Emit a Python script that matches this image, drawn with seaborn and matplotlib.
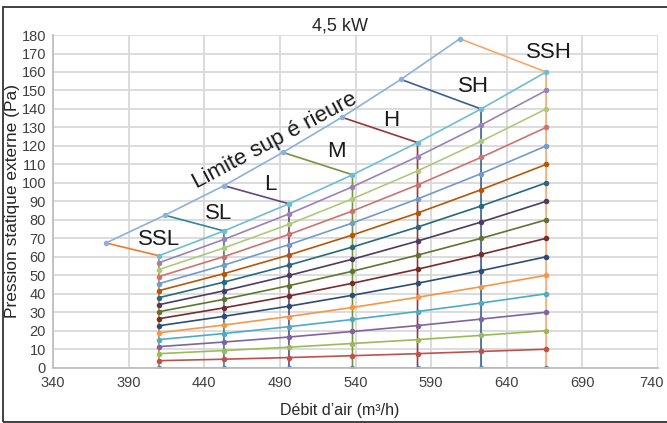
import pandas as pd
import matplotlib.pyplot as plt
import matplotlib.transforms as mtransforms
import seaborn as sns
from matplotlib.patches import Rectangle

# vitesses de ventilation et débits correspondants (m3/h)
vitesses = ['SSL', 'SL', 'L', 'M', 'H', 'SH', 'SSH']
debits = [410, 453, 496, 538, 581, 623, 666]

# courbes de réseau : pression (Pa) lue à chaque vitesse, de 0 à 160 Pa à SSH
p_SSL = [0, 3.8, 7.6, 11.4, 15.2, 18.9, 22.7, 26.5, 30.3, 34.1, 37.9, 41.7, 45.5, 49.3, 53.1, 56.8, 60.6]
p_SL = [0, 4.6, 9.3, 13.9, 18.5, 23.1, 27.8, 32.4, 37.0, 41.6, 46.3, 50.9, 55.5, 60.1, 64.8, 69.4, 74.0]
p_L = [0, 5.5, 11.1, 16.6, 22.2, 27.7, 33.3, 38.8, 44.4, 49.9, 55.5, 61.0, 66.6, 72.1, 77.6, 83.2, 88.7]
p_M = [0, 6.5, 13.1, 19.6, 26.1, 32.6, 39.2, 45.7, 52.2, 58.7, 65.3, 71.8, 78.3, 84.8, 91.4, 97.9, 104.4]
p_H = [0, 7.6, 15.2, 22.8, 30.4, 38.1, 45.7, 53.3, 60.9, 68.5, 76.1, 83.7, 91.3, 98.9, 106.5, 114.2, 121.8]
p_SH = [0, 8.8, 17.5, 26.3, 35.0, 43.8, 52.5, 61.3, 70.0, 78.8, 87.5, 96.3, 105.0, 113.8, 122.5, 131.3, 140.0]
p_SSH = [0, 10, 20, 30, 40, 50, 60, 70, 80, 90, 100, 110, 120, 130, 140, 150, 160]

# limite supérieure
limite_x = [375, 414, 453, 492, 531, 570, 609]
limite_y = [67.5, 82.5, 98.5, 116.5, 135.5, 156, 178]

couleurs_courbes = ['#4F81BD', '#C0504D', '#9BBB59', '#8064A2', '#4BACC6', '#F79646',
                    '#2C4D75', '#772C2A', '#5F7530', '#4D3B62', '#276A7C', '#B65708',
                    '#729ACA', '#CD7371', '#AFC97A', '#9983B5', '#6FBDD1']
couleurs_vitesses = ['#F07B2B', '#31859C', '#604A7B', '#77933C', '#953735', '#376092', '#F9A66B']
couleur_limite = '#8EB0DA'

colonnes = [p_SSL, p_SL, p_L, p_M, p_H, p_SH, p_SSH]

# tableau long pour les courbes
rows = []
for i in range(len(p_SSH)):
    for d, col in zip(debits, colonnes):
        rows.append({'debit': d, 'pression': col[i], 'courbe': i})
df_courbes = pd.DataFrame(rows)

# tableau pour les vitesses : limite -> sommet -> 0
rows = []
for k, v in enumerate(vitesses):
    top = colonnes[k][-1]
    for x, y in [(limite_x[k], limite_y[k]), (debits[k], top), (debits[k], 0)]:
        rows.append({'debit': x, 'pression': y, 'vitesse': v})
df_vitesses = pd.DataFrame(rows)

sns.set_theme(style='whitegrid')
plt.rcParams['font.family'] = ['Liberation Sans', 'DejaVu Sans']

fig = plt.figure(figsize=(6.67, 4.23), dpi=100)
ax = fig.add_axes([0.0795, 0.1307, 0.907, 0.7865])

sns.lineplot(data=df_vitesses, x='debit', y='pression', hue='vitesse',
             palette=couleurs_vitesses, estimator=None, sort=False,
             linewidth=1.2, legend=False, ax=ax)
sns.lineplot(data=df_courbes, x='debit', y='pression', hue='courbe',
             palette=couleurs_courbes, estimator=None, sort=False,
             marker='o', markersize=4, markeredgewidth=0,
             linewidth=1.2, legend=False, ax=ax)
sns.lineplot(x=limite_x, y=limite_y, color=couleur_limite, estimator=None, sort=False,
             marker='o', markersize=4, markeredgewidth=0, linewidth=1.2, ax=ax)

# étiquettes
pos_labels = [(410.3, 69.6), (449.3, 83.5), (483.9, 99.1), (527.6, 116.8),
              (563.9, 133.5), (617.9, 151.9), (667.9, 170.5)]
for v, (x, y) in zip(vitesses, pos_labels):
    ax.text(x, y, v, fontsize=16, ha='center', va='center', color='#1a1a1a')
ax.text(486.5, 123, 'Limite sup é rieure', fontsize=16, ha='center', va='center',
        rotation=28, rotation_mode='anchor', color='#1a1a1a')

ax.set_xlim(340, 740)
ax.set_ylim(0, 180)
ax.set_xticks(range(340, 741, 50))
ax.set_yticks(range(0, 181, 10))
ax.tick_params(labelsize=10.5, length=0, pad=6, colors='#404040')
ax.tick_params(axis='y', pad=5)
ax.grid(color='#D9D9D9', linewidth=1.3)
for s in ['top', 'right']:
    ax.spines[s].set_visible(False)
for s in ['left', 'bottom']:
    ax.spines[s].set_color('#BFBFBF')
    ax.spines[s].set_linewidth(1.3)

# décaler le dernier libellé pour qu'il reste dans l'image
dernier = ax.get_xticklabels()[-1]
dernier.set_transform(dernier.get_transform() +
                      mtransforms.ScaledTranslation(-6 / 100, 0, fig.dpi_scale_trans))

ax.set_xlabel('Débit d’air (m³/h)', fontsize=11.5, color='#262626')
ax.xaxis.set_label_coords(0.474, -0.106)
ax.set_ylabel('Pression statique externe (Pa)', fontsize=12.5, color='#262626')
ax.yaxis.set_label_coords(-0.054, 0.5)
ax.text(0.474, 1.027, '4,5 kW', fontsize=13, ha='center', va='center',
        color='#262626', transform=ax.transAxes)

fig.add_artist(Rectangle((0.005, 0.003), 1.2, 0.9805, transform=fig.transFigure,
                         fill=False, edgecolor='#333333', linewidth=1.3))

fig.savefig('out.png', dpi=100)
